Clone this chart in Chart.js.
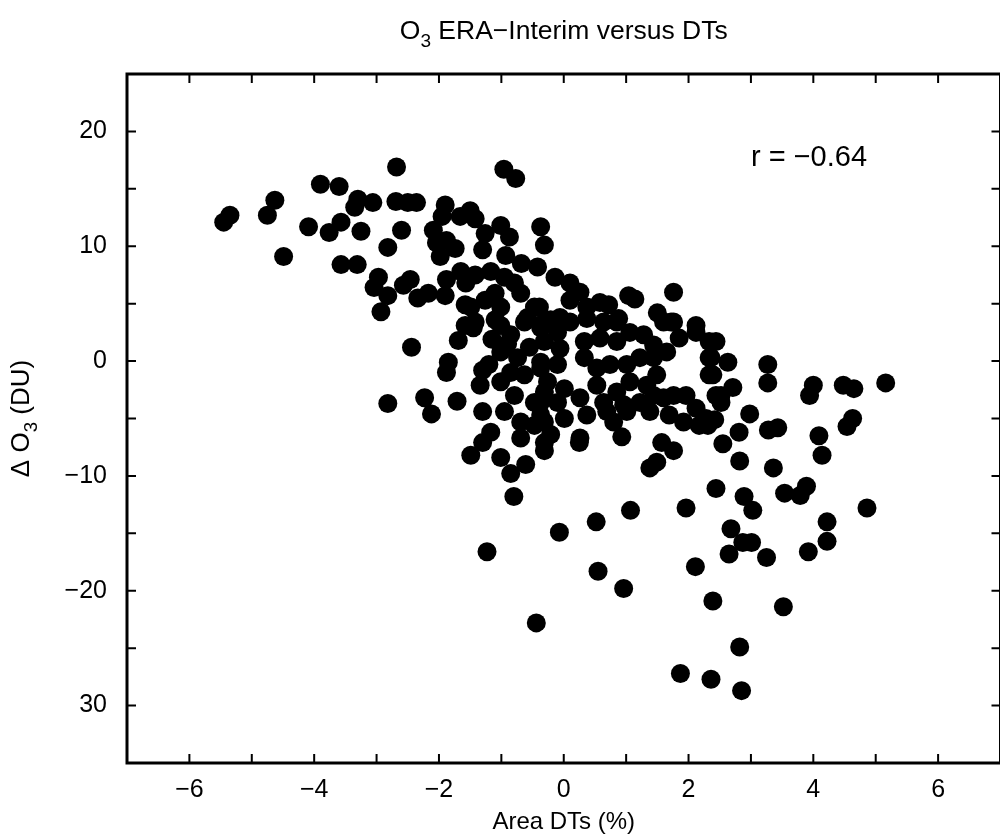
<!DOCTYPE html>
<html>
<head>
<meta charset="utf-8">
<script src="https://cdn.jsdelivr.net/npm/chart.js@4.4.1/dist/chart.umd.min.js"></script>
<style>
  html, body { margin: 0; padding: 0; background: #fff; overflow: hidden; }
  canvas { display: block; }
</style>
</head>
<body>
<canvas id="chartO3" width="1010" height="840" style="width:1010px;height:840px"></canvas>
<script>
// x = Area DTs (%), y = delta O3 (DU)
const xValues = [
    -5.45, -5.35, -4.75, -4.63, -3.90, -3.60, -3.35, -3.30, -3.06, -4.09, -3.76, -3.57, -3.25, -4.49, -3.57, -3.31, -3.04, -2.97, -2.93,
    -2.68, -0.96, -0.77, -2.69, -2.50, -2.36, -1.90, -1.95, -1.66, -1.50, -1.42, -1.01, -0.87, -0.37, -0.31, -2.60, -2.82, -2.09, -2.04, -1.88,
    -1.74, -1.98, -1.26, -1.30, -0.93, -0.68, -0.42, -2.82, -2.46, -2.57, -2.34, -2.17, -1.88, -1.90, -1.65, -1.42, -1.57, -1.58, -1.49, -1.17,
    -0.95, -0.79, -1.26, -1.10, -1.01, -0.69, -0.47, -0.58, -1.42, -1.10,
    -0.14, 0.10, 0.26, 0.10, 0.37, 0.58, 0.72, 1.04, 1.14, 1.76, 1.50, 1.72, 2.12, 0.88, -0.06, -0.21, -0.39,
    -2.44, -1.69, -1.45, -1.58, -1.85, -1.88, -1.30, -1.34, -2.82, -2.23, -2.12, -1.71, -1.30, -1.17, -1.30, -1.49, -1.01, -0.85, -0.61, -0.80,
    -1.01, -0.85, -0.63, -0.37, -1.01, -0.74, -0.63, -0.37, -1.01, -0.79, -0.47, -0.31, -0.95, -0.69, -0.47, -0.37, -0.31, -0.69,
    -1.15, -0.90, -1.20, -0.55, -0.85,
    -0.31, -0.10, 0.10, 0.37, 0.64, 0.85, -0.31, -0.06, 0.33, 0.58, 0.85, 1.06, 1.28, 1.44, 1.60, 1.76, 1.85, 2.12, 2.33, 2.33, 2.33, 2.44,
    -0.37, -0.10, 0.33, 0.53, 0.74, 1.01, 1.22, 1.44, 1.65, 1.49, -0.26, 0.01, 0.53, 0.85, 1.06, 1.33, -0.37, -0.10, 0.26, 0.64, 0.96, 1.22,
    1.44, 1.60, 1.76, 1.96, 2.12, 2.28, -0.31, 0.01, 0.37, 0.69, 1.01, 1.38, 1.69, 1.92, 2.17, -0.21, 0.26, 0.80, 0.93, -0.31, 0.25, 1.57,
    1.76, 1.49, 1.38, 2.44, 0.52, 1.07, 1.96,
    2.44, 2.36, 2.63, 2.39, 2.71, 2.52, 2.52, 3.27, 3.27, 4.00, 3.94, 4.48, 4.65, 5.16, 2.31, 2.42, 2.98, 2.81, 3.28, 3.43, 4.63, 4.54,
    4.09, 4.14, 2.55, 2.82, 3.36, 2.89, 3.03, 3.54, 3.79, 3.89, 4.86, 4.22,
    -1.23, -0.44, -0.07, 0.55, 0.96, 2.11, 2.39, 1.87, 2.36, 2.68, 2.87, 3.01, 2.65, 3.25, 3.92, 4.22, 3.52, 2.82, 2.85
];
const yValues = [
    12.1, 12.7, 12.7, 14.0, 15.4, 15.2, 13.4, 14.1, 13.8, 11.7, 11.2, 12.1, 11.3, 9.1, 8.4, 8.4, 6.4, 7.3, 4.3,
    16.9, 16.7, 15.9, 13.9, 13.8, 13.8, 13.6, 12.6, 12.6, 13.1, 12.4, 11.8, 10.8, 11.7, 10.1, 11.4, 9.9, 11.4, 10.3, 10.5,
    9.8, 9.1, 11.1, 9.7, 9.2, 8.5, 8.2, 5.7, 7.1, 6.6, 5.5, 5.9, 7.1, 5.7, 7.8, 7.5, 6.8, 4.9, 4.7, 7.8,
    7.3, 6.8, 5.3, 5.9, 4.7, 5.9, 4.7, 3.8, 3.4, 3.6,
    7.3, 6.8, 6.0, 5.3, 4.7, 5.1, 4.9, 5.7, 5.4, 6.0, 4.2, 3.4, 3.1, 3.7, 3.8, 3.6, 4.7,
    1.2, 1.8, 2.9, 3.1, -0.1, -1.0, -0.8, -2.1, -3.7, -3.2, -4.6, -3.5, -4.4, -6.2, -7.1, -8.2, -8.4, -9.8, -9.0, -11.8,
    3.1, 2.3, 3.4, 2.9, 0.8, 0.3, -1.2, -0.6, -1.8, -3.0, -3.6, -2.7, -4.4, -5.3, -5.6, -4.7, -7.1, -6.7,
    1.9, 1.5, -0.3, 1.2, -1.0,
    3.4, 2.5, 3.4, 3.7, 3.4, 3.4, 1.7, 1.1, 1.7, 2.0, 1.7, 2.5, 2.3, 1.4, 3.4, 3.4, 2.0, 2.5, 1.7, 0.3, -1.2, -3.0,
    -0.1, -0.3, 0.3, -0.6, -0.3, -0.3, 0.3, 0.3, 0.8, -1.2, -1.8, -2.4, -2.1, -2.7, -1.8, -2.1, -3.6, -3.6, -3.2, -3.6, -3.8, -3.6,
    -3.0, -3.2, -3.0, -3.0, -4.1, -5.0, -5.3, -5.0, -4.7, -4.4, -4.4, -4.4, -4.7, -5.3, -5.6, -6.4, -6.7, -5.3, -6.6, -7.8, -7.1, -7.1,
    -7.8, -8.8, -9.3, -11.1, -14.0, -13.0, -12.8,
    1.7, 0.3, -0.1, -1.2, -2.3, -3.0, -3.6, -0.3, -1.9, -2.1, -3.0, -2.1, -2.4, -1.9, -5.6, -5.1, -4.6, -6.2, -6.0, -5.8, -5.0, -5.7,
    -6.5, -8.2, -7.2, -8.7, -9.3, -11.8, -13.0, -11.5, -11.7, -10.9, -12.8, -14.0,
    -16.6, -22.8, -14.9, -18.3, -19.8, -17.9, -20.9, -27.2, -27.7, -14.6, -15.8, -15.8, -16.8, -17.1, -16.6, -15.7, -21.4, -24.9, -28.7
];

const xTickValues = [-6, -4, -2, 0, 2, 4, 6];
const xTickLabels = ["\u22126", "\u22124", "\u22122", "0", "2", "4", "6"];
const yTickValues = [20, 10, 0, -10, -20, -30];
const yTickLabels = ["20", "10", "0", "\u221210", "\u221220", "30"];

const FONT = "'Liberation Sans', Arial, Helvetica, sans-serif";

// text with a subscript part, drawn left to right from (x, y)
function drawSubText (ctx, parts, x, y, size) {
    let cx = x;
    parts.forEach(function (p) {
        const s = p.sub ? size * 0.72 : size;
        ctx.font = s + "px " + FONT;
        ctx.fillText(p.t, cx, y + (p.sub ? size * 0.32 : 0));
        cx += ctx.measureText(p.t).width;
    });
}
function subTextWidth (ctx, parts, size) {
    let w = 0;
    parts.forEach(function (p) {
        ctx.font = (p.sub ? size * 0.72 : size) + "px " + FONT;
        w += ctx.measureText(p.t).width;
    });
    return w;
}

const framePlugin = {
    id: "frame",
    afterDraw (chart) {
        const ctx = chart.ctx;
        const a = chart.chartArea;
        const xs = chart.scales.x;
        const ys = chart.scales.y;
        ctx.save();
        ctx.strokeStyle = "#000";
        ctx.fillStyle = "#000";

        // inward ticks
        ctx.lineWidth = 2;
        ctx.beginPath();
        for (let v = -7; v <= 7; v++) {
            const px = xs.getPixelForValue(v);
            ctx.moveTo(px, a.bottom); ctx.lineTo(px, a.bottom - 9);
            ctx.moveTo(px, a.top); ctx.lineTo(px, a.top + 9);
        }
        for (let v = -35; v <= 25; v += 5) {
            const py = ys.getPixelForValue(v);
            ctx.moveTo(a.left, py); ctx.lineTo(a.left + 9, py);
            ctx.moveTo(a.right, py); ctx.lineTo(a.right - 9, py);
        }
        ctx.stroke();

        // box
        ctx.lineWidth = 3;
        ctx.strokeRect(a.left, a.top, a.right - a.left, a.bottom - a.top);

        // correlation label
        ctx.font = "29px " + FONT;
        ctx.textAlign = "left";
        ctx.textBaseline = "middle";
        ctx.fillText("r = \u22120.64", xs.getPixelForValue(3), ys.getPixelForValue(17.7));

        // title
        const cx = (a.left + a.right) / 2;
        ctx.textBaseline = "alphabetic";
        const title = [{ t: "O" }, { t: "3", sub: true }, { t: " ERA\u2212Interim versus DTs" }];
        drawSubText(ctx, title, cx - subTextWidth(ctx, title, 26.5) / 2, 39, 26.5);

        // x axis title
        ctx.font = "24px " + FONT;
        ctx.textAlign = "center";
        ctx.fillText("Area DTs (%)", cx, 829);

        // y axis title, rotated
        const yl = [{ t: "\u0394 O" }, { t: "3", sub: true }, { t: " (DU)" }];
        ctx.translate(29, (a.top + a.bottom) / 2);
        ctx.rotate(-Math.PI / 2);
        ctx.textAlign = "left";
        drawSubText(ctx, yl, -subTextWidth(ctx, yl, 26) / 2, 0, 26);
        ctx.restore();
    },
};

const ctxO3 = document.getElementById("chartO3").getContext("2d");
const chartO3 = new Chart(ctxO3, {
    type: "scatter",
    data: {
        datasets: [
            {
                label: "O3",
                data: xValues.map(function (x, i) { return { x: x, y: yValues[i] }; }),
                backgroundColor: "#000",
                borderWidth: 0,
                pointRadius: 9.5,
                pointHoverRadius: 9.5,
            },
        ],
    },
    options: {
        responsive: false,
        animation: false,
        layout: { padding: { top: 74, right: 3, left: 0, bottom: 0 } },
        plugins: {
            legend: { display: false },
            tooltip: { enabled: false },
        },
        scales: {
            x: {
                type: "linear",
                min: -7,
                max: 7,
                grid: { display: false },
                border: { display: false },
                afterBuildTicks: function (scale) {
                    scale.ticks = xTickValues.map(function (v) { return { value: v }; });
                },
                ticks: {
                    callback: function (v) { return xTickLabels[xTickValues.indexOf(v)]; },
                    color: "#000",
                    font: { family: FONT, size: 25 },
                    padding: 4,
                    maxRotation: 0,
                    autoSkip: false,
                },
                afterFit: function (scale) { scale.height = 77; },
            },
            y: {
                type: "linear",
                min: -35,
                max: 25,
                grid: { display: false },
                border: { display: false },
                afterBuildTicks: function (scale) {
                    scale.ticks = yTickValues.map(function (v) { return { value: v }; });
                },
                ticks: {
                    callback: function (v) { return yTickLabels[yTickValues.indexOf(v)]; },
                    color: "#000",
                    font: { family: FONT, size: 25 },
                    padding: 12,
                },
                afterFit: function (scale) { scale.width = 127; },
            },
        },
    },
    plugins: [framePlugin],
});
</script>
</body>
</html>
